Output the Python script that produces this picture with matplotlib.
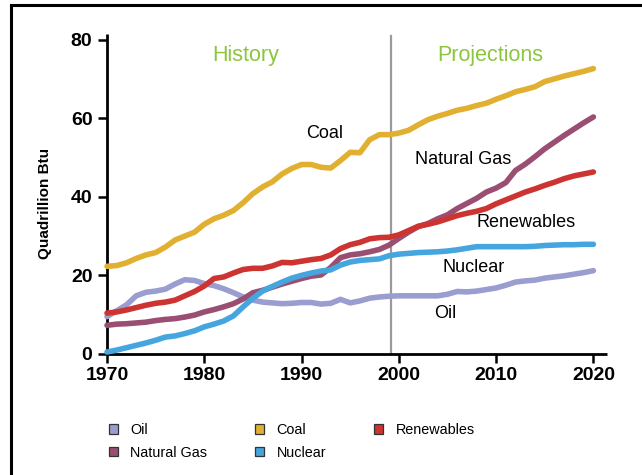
import matplotlib
matplotlib.use("Agg")
import matplotlib.pyplot as plt
from matplotlib.patches import Patch, Rectangle

plt.rcParams["font.family"] = ["Liberation Sans", "DejaVu Sans"]

# Energy consumption by fuel, quadrillion Btu
years = list(range(1970, 2021))

coal = [
    22.3, 22.5, 23.2, 24.3, 25.2, 25.8, 27.2, 29.0, 30.0, 31.0,
    33.0, 34.4, 35.3, 36.5, 38.5, 40.8, 42.5, 43.8, 45.8, 47.2,
    48.2, 48.2, 47.5, 47.3, 49.2, 51.3, 51.2, 54.5, 55.8, 55.8,
    56.2, 56.9, 58.3, 59.6, 60.5, 61.2, 62.0, 62.5, 63.2, 63.8,
    64.8, 65.7, 66.7, 67.3, 68.0, 69.3, 70.0, 70.7, 71.3, 71.9,
    72.6,
]
natural_gas = [
    7.3, 7.6, 7.7, 7.9, 8.1, 8.5, 8.8, 9.0, 9.4, 9.9,
    10.7, 11.3, 12.0, 12.8, 14.0, 15.6, 16.2, 17.0, 17.8, 18.5,
    19.2, 19.8, 20.1, 22.0, 24.5, 25.2, 25.5, 26.0, 26.6, 27.7,
    29.4, 31.0, 32.4, 33.2, 34.4, 35.4, 37.0, 38.3, 39.6, 41.2,
    42.2, 43.6, 46.7, 48.3, 50.2, 52.2, 53.9, 55.6, 57.2, 58.8,
    60.3,
]
renewables = [
    10.4, 10.7, 11.2, 11.8, 12.4, 12.9, 13.2, 13.7, 14.8, 15.9,
    17.3, 19.2, 19.6, 20.6, 21.5, 21.8, 21.8, 22.4, 23.3, 23.2,
    23.6, 24.0, 24.3, 25.2, 26.8, 27.8, 28.4, 29.3, 29.6, 29.7,
    30.3, 31.4, 32.5, 33.0, 33.6, 34.4, 35.2, 35.8, 36.3, 37.0,
    38.2, 39.2, 40.2, 41.2, 42.0, 42.9, 43.7, 44.6, 45.3, 45.8,
    46.3,
]
nuclear = [
    0.5, 1.0, 1.6, 2.2, 2.8, 3.5, 4.3, 4.6, 5.2, 5.9,
    6.9, 7.6, 8.4, 9.7, 12.0, 14.2, 16.0, 17.2, 18.3, 19.3,
    20.0, 20.6, 21.1, 21.4, 22.6, 23.4, 23.8, 24.0, 24.2, 25.0,
    25.4, 25.6, 25.8, 25.9, 26.0, 26.2, 26.5, 26.9, 27.3, 27.3,
    27.3, 27.3, 27.3, 27.3, 27.4, 27.6, 27.7, 27.8, 27.8, 27.9,
    27.9,
]
oil = [
    9.5, 11.0, 12.5, 14.8, 15.7, 16.0, 16.5, 17.8, 18.9, 18.7,
    17.9, 17.4, 16.6, 15.6, 14.5, 13.7, 13.2, 13.0, 12.8, 12.9,
    13.1, 13.1, 12.7, 12.9, 13.9, 13.0, 13.5, 14.2, 14.5, 14.7,
    14.8, 14.8, 14.8, 14.8, 14.8, 15.2, 15.9, 15.8, 16.0, 16.4,
    16.8, 17.5, 18.3, 18.6, 18.8, 19.3, 19.6, 19.9, 20.3, 20.7,
    21.2,
]

split_year = 1999.2
x_ticks = [1970, 1980, 1990, 2000, 2010, 2020]
y_ticks = [0, 20, 40, 60, 80]

series = {
    "Oil": (oil, "#9a9dcf"),
    "Natural Gas": (natural_gas, "#9a4e72"),
    "Coal": (coal, "#e2b030"),
    "Nuclear": (nuclear, "#45a5de"),
    "Renewables": (renewables, "#cd3431"),
}

W, H = 642, 475
fig = plt.figure(figsize=(W / 100, H / 100), dpi=100)


def fx(px):
    return px / W


def fy(py):
    return 1 - py / H


# axes box in pixels: left 107, right 607, top 34, bottom 354
ax = fig.add_axes([fx(107), fy(354), fx(607) - fx(107), fy(34) - fy(354)])
ax.set_xlim(1970, 2021.4)
ax.set_ylim(0, 81.4)

ax.axvline(split_year, ymin=0, ymax=0.993, color="#9a9a9a", lw=1.6, zorder=1)

for name, (values, color) in series.items():
    ax.plot(years, values, color=color, lw=4.0, solid_capstyle="round",
            solid_joinstyle="round", clip_on=False, zorder=3)

for side in ["top", "right"]:
    ax.spines[side].set_visible(False)
for side in ["left", "bottom"]:
    ax.spines[side].set_linewidth(2)
    ax.spines[side].set_capstyle("butt")

ax.set_xticks(x_ticks)
ax.set_yticks(y_ticks)
ax.tick_params(axis="both", direction="out", length=6.5, width=1.8,
               labelsize=14)
ax.tick_params(axis="y", pad=4)
ax.tick_params(axis="x", pad=3)
for lab in ax.get_xticklabels() + ax.get_yticklabels():
    lab.set_fontweight("bold")

fig.text(fx(45), fy(203), "Quadrillion Btu", rotation=90, fontsize=11,
         fontweight="bold", ha="center", va="center")

green = "#8cc63e"
fig.text(fx(246), fy(55), "History", color=green, fontsize=15.5,
         ha="center", va="center")
fig.text(fx(490), fy(55), "Projections", color=green, fontsize=15.5,
         ha="center", va="center")

labels = [
    ("Coal", 325, 134),
    ("Natural Gas", 463, 160),
    ("Renewables", 526, 223),
    ("Nuclear", 474, 267),
    ("Oil", 445, 313),
]
for text, px, py in labels:
    fig.text(fx(px), fy(py), text, fontsize=13, ha="center", va="center")

handles = [Patch(facecolor=c, edgecolor="#333333", lw=0.9, label=n)
           for n, (v, c) in series.items()]
fig.legend(handles=handles, loc="upper left", ncol=3, frameon=False,
           bbox_to_anchor=(fx(108.5), fy(423)), borderaxespad=0, borderpad=0,
           fontsize=10.4, handlelength=0.65, handleheight=0.65,
           handletextpad=0.85, columnspacing=3.3, labelspacing=0.6)

# figure frame, open to the right and bottom
fig.patches.append(Rectangle((fx(11.5), fy(H + 20)), 1.2, fy(5.5) - fy(H + 20),
                             transform=fig.transFigure, fill=False,
                             edgecolor="black", lw=2.2))

fig.savefig("out.png", dpi=100)
